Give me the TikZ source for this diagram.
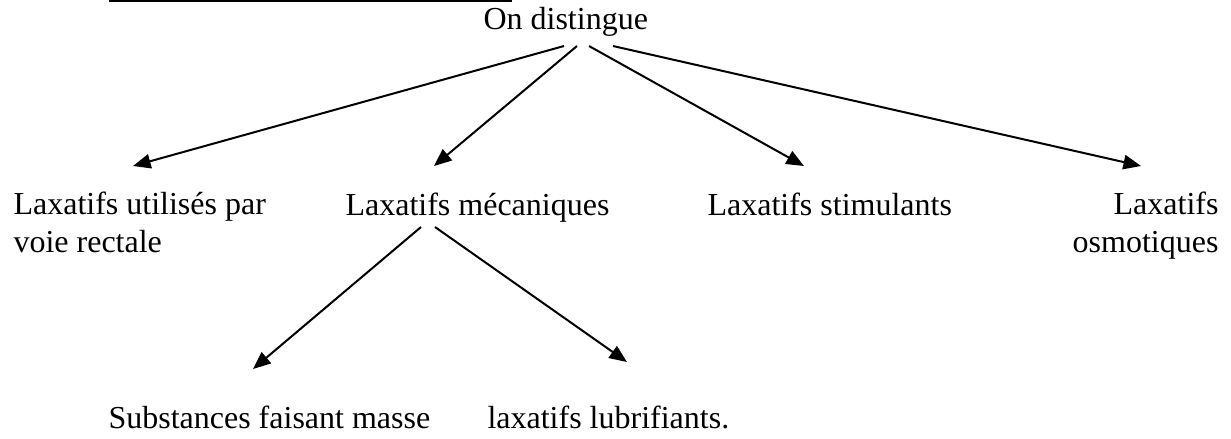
\documentclass[tikz,border=0pt]{standalone}
\usepackage{fontspec}
\setmainfont{Liberation Serif}
\usetikzlibrary{arrows.meta, positioning, calc}
\tikzset{
	label_text/.style={inner sep=0pt, font=\fontsize{12}{13.9}\selectfont},
	line/.style={draw, line width=0.75pt, -{Triangle[length=6.6pt, width=5.4pt]}}
}

\begin{document}
\begin{tikzpicture}[x=0.375pt, y=-0.375pt]
	\useasboundingbox (0,0) rectangle (1231,438);
	
	% Heading and rule above it
	\draw[line width=0.6pt] (109,0.8) -- (512,0.8);
	\node[label_text, anchor=base west] (on_distingue) at (483,29) {On distingue};
	
	% First level (two-line labels sit on their last baseline)
	\node[label_text, anchor=base west, align=left] (laxatifs_rectale) at (13,252) {Laxatifs utilisés par\\voie rectale};
	\node[label_text, anchor=base west] (laxatifs_mecaniques) at (345,215) {Laxatifs mécaniques};
	\node[label_text, anchor=base west] (laxatifs_stimulants) at (707,215) {Laxatifs stimulants};
	\node[label_text, anchor=base east, align=right] (laxatifs_osmotiques) at (1219,252) {Laxatifs\\osmotiques};
	
	% Second level
	\node[label_text, anchor=base west] (substances_masse) at (108,428) {Substances faisant masse};
	\node[label_text, anchor=base west] (laxatifs_lubrifiants) at (487,428) {laxatifs lubrifiants.};
	
	% arrow ends
	\coordinate (distingue_1) at (564,46);
	\coordinate (distingue_2) at (577,46);
	\coordinate (distingue_3) at (589,46);
	\coordinate (distingue_4) at (613,46);
	\coordinate (rectale_tip) at (133,166);
	\coordinate (mecaniques_tip) at (434,166);
	\coordinate (stimulants_tip) at (804,166);
	\coordinate (osmotiques_tip) at (1141,166);
	\coordinate (mecaniques_1) at (421,227);
	\coordinate (mecaniques_2) at (435,227);
	\coordinate (masse_tip) at (253,369);
	\coordinate (lubrifiants_tip) at (627,362);
	
	% arrows
	\draw[line] (distingue_1) -- (rectale_tip);
	\draw[line] (distingue_2) -- (mecaniques_tip);
	\draw[line] (distingue_3) -- (stimulants_tip);
	\draw[line] (distingue_4) -- (osmotiques_tip);
	\draw[line] (mecaniques_1) -- (masse_tip);
	\draw[line] (mecaniques_2) -- (lubrifiants_tip);
	
\end{tikzpicture}
\end{document}
